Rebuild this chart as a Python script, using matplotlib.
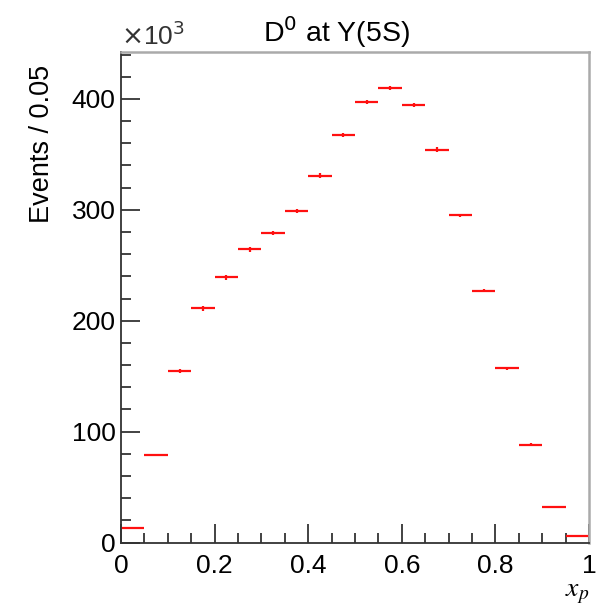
import matplotlib.pyplot as plt
from matplotlib.ticker import MultipleLocator

# D0 x_p spectrum at Y(5S), 20 bins of 0.05, events in units of 10^3
bin_centers = [0.025, 0.075, 0.125, 0.175, 0.225, 0.275, 0.325, 0.375, 0.425, 0.475,
               0.525, 0.575, 0.625, 0.675, 0.725, 0.775, 0.825, 0.875, 0.925, 0.975]
events = [13.4, 78.7, 154.5, 211.0, 239.0, 264.3, 279.0, 299.0, 330.8, 367.2,
          397.0, 410.0, 394.6, 354.2, 295.0, 227.0, 156.9, 88.3, 32.3, 5.6]
errors = [0.5, 1.0, 1.5, 2.0, 2.0, 2.0, 2.0, 2.0, 2.0, 2.0,
          2.0, 2.0, 2.0, 2.0, 1.5, 1.5, 1.0, 1.0, 0.5, 0.3]
half_width = 0.025

plt.rcParams['font.family'] = ['Liberation Sans', 'DejaVu Sans']

fig = plt.figure(figsize=(6.12, 6.09), dpi=100)
ax = fig.add_axes([121 / 612, 1 - 542.5 / 609, 468 / 612, 490.2 / 609])

ax.errorbar(bin_centers, events, xerr=half_width, yerr=errors, fmt='none',
            ecolor='#ff1010', elinewidth=1.6, capsize=0)

ax.set_xlim(0, 1)
ax.set_ylim(0, 442)

ax.xaxis.set_major_locator(MultipleLocator(0.2))
ax.xaxis.set_minor_locator(MultipleLocator(0.05))
ax.yaxis.set_major_locator(MultipleLocator(100))
ax.yaxis.set_minor_locator(MultipleLocator(20))
ax.xaxis.set_major_formatter(plt.FuncFormatter(lambda v, p: '%g' % round(v, 2)))

ax.tick_params(which='both', direction='in', top=False, right=False,
               labelsize=19, color='#222222')
ax.tick_params(which='major', length=14, width=1.2)
ax.tick_params(which='minor', length=7, width=1.2)
ax.tick_params(axis='x', pad=8)
ax.tick_params(axis='y', pad=4)

for side in ['left', 'bottom']:
    ax.spines[side].set_color('#333333')
    ax.spines[side].set_linewidth(1.3)
for side in ['top', 'right']:
    ax.spines[side].set_color('#aaaaaa')
    ax.spines[side].set_linewidth(1.8)

# axis titles aligned to the axis ends, ROOT style
ax.set_ylabel('Events / 0.05', fontsize=19.5, ha='right')
ax.yaxis.set_label_coords(-0.14, 0.974)
ax.text(1.0, -0.102, r'$x_p$', transform=ax.transAxes, ha='right', va='center',
        fontsize=20, math_fontfamily='stix')

ax.text(0.0, 1.005, r'$\times$10$^3$', transform=ax.transAxes, ha='left', va='bottom',
        fontsize=19, color='#333333', math_fontfamily='dejavusans')

fig.text(337 / 612, 1 - 32 / 609, r'D$^0$ at Υ(5S)', ha='center', va='center',
         fontsize=20.5, math_fontfamily='dejavusans')

fig.savefig('out.png', dpi=100, facecolor='white')
